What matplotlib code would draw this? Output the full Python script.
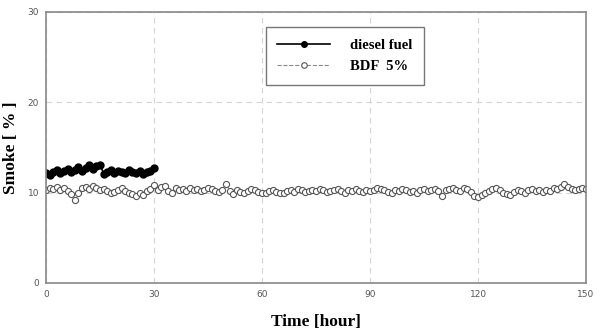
import numpy as np
import matplotlib.pyplot as plt

# smoke opacity vs running time, one reading per hour
diesel_hours = list(range(0, 31))
diesel_smoke = [12.2, 12.0, 12.3, 12.5, 12.2, 12.4, 12.6, 12.3, 12.5, 12.8,
                12.4, 12.7, 13.0, 12.6, 12.9, 13.1, 12.1, 12.3, 12.5, 12.2,
                12.4, 12.3, 12.2, 12.5, 12.3, 12.2, 12.4, 12.1, 12.3, 12.4, 12.7]

bdf_hours = list(range(0, 151))
bdf_smoke = [10.3, 10.5, 10.4, 10.6, 10.3, 10.5, 10.2, 9.8, 9.2, 10.0,
             10.5, 10.6, 10.4, 10.7, 10.5, 10.3, 10.4, 10.2, 10.0, 10.1,
             10.3, 10.5, 10.2, 10.0, 9.8, 9.6, 9.9, 9.7, 10.2, 10.4, 10.8,
             10.3, 10.6, 10.7, 10.2, 10.0, 10.5, 10.3, 10.4, 10.2, 10.5,
             10.3, 10.4, 10.2, 10.3, 10.5, 10.4, 10.2, 10.1, 10.3, 11.0,
             10.2, 9.8, 10.3, 10.1, 10.0, 10.2, 10.4, 10.3, 10.1, 9.9,
             10.0, 10.2, 10.3, 10.1, 9.9, 10.0, 10.2, 10.3, 10.1, 10.4,
             10.3, 10.1, 10.2, 10.3, 10.2, 10.4, 10.3, 10.1, 10.2, 10.3,
             10.4, 10.2, 10.0, 10.3, 10.2, 10.4, 10.2, 10.1, 10.3, 10.2,
             10.3, 10.5, 10.4, 10.3, 10.1, 10.0, 10.3, 10.2, 10.4, 10.3,
             10.1, 10.2, 10.0, 10.3, 10.4, 10.2, 10.3, 10.4, 10.2, 9.6,
             10.3, 10.4, 10.5, 10.3, 10.2, 10.5, 10.4, 10.1, 9.6, 9.5,
             9.7, 10.0, 10.2, 10.4, 10.5, 10.3, 10.0, 9.8, 9.7, 10.1,
             10.3, 10.2, 10.0, 10.3, 10.4, 10.2, 10.3, 10.1, 10.3, 10.2,
             10.5, 10.4, 10.6, 11.0, 10.6, 10.4, 10.3, 10.4, 10.5, 10.4]

xticks = [0, 30, 60, 90, 120, 150]
yticks = [0, 10, 20, 30]

fig = plt.figure(figsize=(5.98, 3.29), dpi=100)
ax = fig.add_axes([0.077, 0.14, 0.903, 0.824])

ax.plot(bdf_hours, bdf_smoke, ls='--', color='#888888', lw=0.8,
        marker='o', ms=4.4, mfc='white', mec='#555555', mew=0.8, label='BDF  5%')
ax.plot(diesel_hours, diesel_smoke, ls='-', color='black', lw=1.2,
        marker='o', ms=5.0, mfc='black', mec='black', label='diesel fuel')

ax.set_xlim(0, 150)
ax.set_ylim(0, 30)
ax.set_xticks(xticks)
ax.set_yticks(yticks)
ax.tick_params(length=0, labelsize=6.5, labelcolor='#555555', pad=5)
ax.grid(True, ls=(0, (5, 4)), color='#d4d4d4', lw=0.8)
for s in ax.spines.values():
    s.set_color('#888888')
    s.set_linewidth(1.2)

serif = {'family': 'Liberation Serif', 'weight': 'bold'}
ax.set_xlabel('Time [hour]', fontdict=serif, fontsize=12.5, labelpad=11)
ax.set_ylabel('Smoke [ % ]', fontdict=serif, fontsize=12.5, labelpad=6)

h, l = ax.get_legend_handles_labels()
leg = ax.legend(h[::-1], l[::-1], loc='upper left', bbox_to_anchor=(0.407, 0.945),
                borderaxespad=0,
                prop={'family': 'Liberation Serif', 'weight': 'bold', 'size': 10.5},
                fancybox=False, edgecolor='#777777', framealpha=1,
                handlelength=3.6, borderpad=0.8, labelspacing=0.55, handletextpad=1.4)
leg.get_frame().set_linewidth(1.0)
for lh in leg.get_lines():
    lh.set_markersize(4.0)

fig.savefig('out.png', dpi=100)
